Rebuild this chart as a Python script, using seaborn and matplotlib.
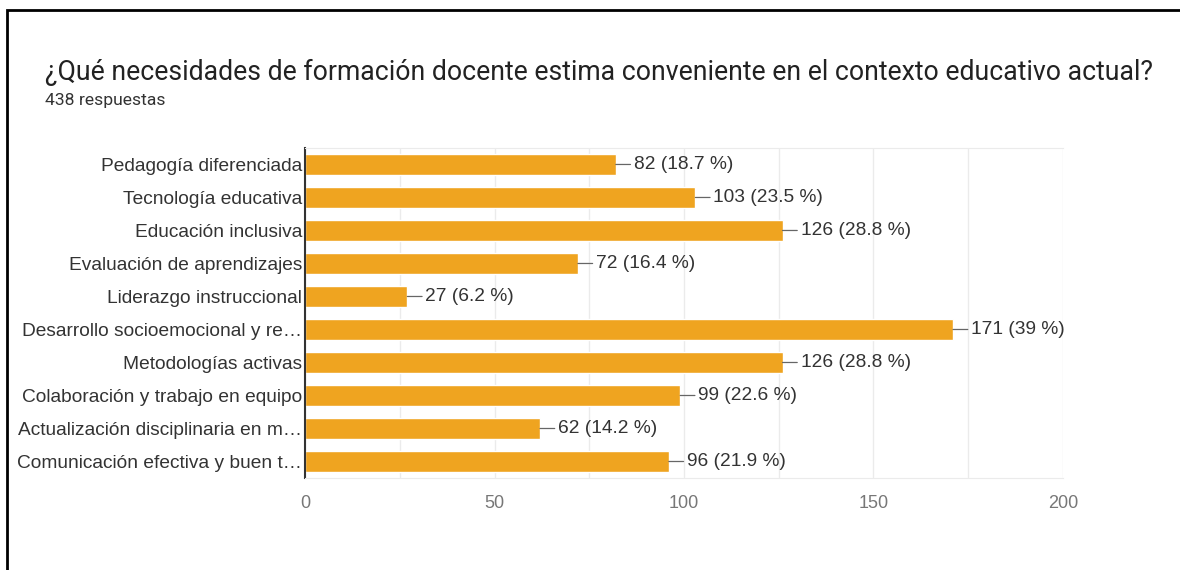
import matplotlib
matplotlib.use('Agg')
import matplotlib.pyplot as plt
import matplotlib.patches as mpatches
from matplotlib.ticker import MultipleLocator
import seaborn as sns
import pandas as pd

categories = ['Pedagogía diferenciada',
              'Tecnología educativa',
              'Educación inclusiva',
              'Evaluación de aprendizajes',
              'Liderazgo instruccional',
              'Desarrollo socioemocional y re…',
              'Metodologías activas',
              'Colaboración y trabajo en equipo',
              'Actualización disciplinaria en m…',
              'Comunicación efectiva y buen t…']
counts = [82, 103, 126, 72, 27, 171, 126, 99, 62, 96]
percents = ['18.7', '23.5', '28.8', '16.4', '6.2', '39', '28.8', '22.6', '14.2', '21.9']

df = pd.DataFrame({'cat': categories, 'n': counts})

sns.set_style('white')
plt.rcParams['font.family'] = ['Liberation Sans', 'DejaVu Sans']

fig = plt.figure(figsize=(11.8, 5.7), dpi=100)
ax = fig.add_axes([0.2585, 0.1614, 0.9008 - 0.2585, 0.7404 - 0.1614])

sns.barplot(ax=ax, data=df, x='n', y='cat', color='#EFA420',
            saturation=1, width=0.64, orient='h')

ax.set_xlim(0, 200)
ax.xaxis.set_major_locator(MultipleLocator(50))
ax.xaxis.set_minor_locator(MultipleLocator(25))
ax.grid(axis='x', which='both', color='#ebebeb', linewidth=1)
ax.set_axisbelow(True)
for s in ['top', 'bottom']:
    ax.spines[s].set_color('#ebebeb')
ax.spines['right'].set_visible(False)
ax.spines['left'].set_color('#333333')
ax.spines['left'].set_linewidth(1.5)
ax.tick_params(axis='both', length=0)
ax.tick_params(axis='x', colors='#777777', labelsize=13, pad=12)
ax.tick_params(axis='y', colors='#333333', labelsize=13.8, pad=2)
ax.set_xlabel('')
ax.set_ylabel('')

# value labels with a short leader line
for i, (v, p) in enumerate(zip(counts, percents)):
    ax.annotate(f'{v} ({p} %)', xy=(v, i), xytext=(18, 0),
                textcoords='offset pixels',
                va='center', ha='left', fontsize=13.8, color='#333333',
                arrowprops=dict(arrowstyle='-', color='#666666', lw=0.9,
                                shrinkA=0, shrinkB=0))

fig.text(45 / 1180, 1 - 72 / 570, '¿Qué necesidades de formación docente estima conveniente en el contexto educativo actual?',
         fontsize=19.2, color='#222222', va='center', family=['Roboto', 'DejaVu Sans'])
fig.text(45 / 1180, 1 - 101 / 570, '438 respuestas',
         fontsize=12.6, color='#333333', va='center', family=['Roboto', 'DejaVu Sans'])

fig.patches.append(mpatches.Rectangle((7 / 1180, -0.1), 1.2, 1 - 10 / 570 + 0.1,
                                      transform=fig.transFigure, fill=False,
                                      edgecolor='black', linewidth=2))

plt.savefig('out.png', dpi=100)
